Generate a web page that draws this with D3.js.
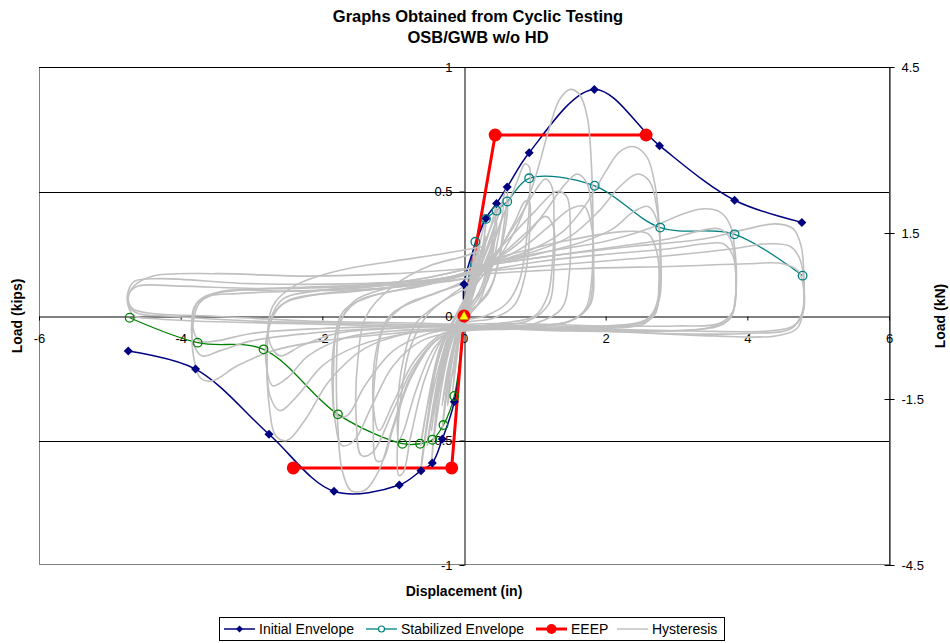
<!DOCTYPE html>
<html><head><meta charset="utf-8">
<script src="https://cdn.jsdelivr.net/npm/d3@7"></script>
<style>body{margin:0;background:#fff} svg{display:block} text{font-family:Arial,"Liberation Sans",sans-serif}</style>
</head><body><svg id="chart" width="950" height="643"></svg>
<script>
// ---------- DATA ----------
const titleLines = ["Graphs Obtained from Cyclic Testing", "OSB/GWB w/o HD"];
const xTicks = [-6, -4, -2, 0, 2, 4, 6];
const yTicks = [-1, -0.5, 0, 0.5, 1];
const yTicksKN = [-4.5, -1.5, 1.5, 4.5];
const gridValues = [1, 0.5, -0.5];

const initialEnvelope = [
  [-4.74, -0.141], [-3.79, -0.213], [-2.753, -0.475], [-1.835, -0.704], [-0.913, -0.679],
  [-0.607, -0.621], [-0.447, -0.590], [-0.306, -0.494], [-0.137, -0.344], [0, 0],
  [0.0, 0.128], [0.31, 0.392], [0.46, 0.452], [0.61, 0.518], [0.92, 0.656],
  [1.84, 0.910], [2.76, 0.684], [3.82, 0.465], [4.77, 0.376]
];
const stabilizedPos = [
  [0, 0], [0.16, 0.298], [0.31, 0.39], [0.46, 0.423], [0.61, 0.46], [0.92, 0.553],
  [1.845, 0.523], [2.77, 0.355], [3.82, 0.328], [4.78, 0.162]
];
const stabilizedNeg = [
  [0, 0], [-0.137, -0.321], [-0.29, -0.438], [-0.447, -0.497], [-0.62, -0.513],
  [-0.87, -0.513], [-1.78, -0.395], [-2.83, -0.134], [-3.76, -0.107], [-4.72, -0.007]
];
const eeep = [[-2.41, -0.61], [-0.174, -0.61], [0, 0], [0.44, 0.727], [2.57, 0.727]];
const originPoint = [[0, 0]];

const hysteresisCycles = [
  [[0,0],[0.05,0.07],[0.1,0.15],[0.07,0.09],[0,0.01],[-0.05,-0.06],[-0.1,-0.16],[-0.07,-0.1],[0,-0.01],[0.04,0.05]],
  [[0,0.01],[0.08,0.13],[0.16,0.28],[0.13,0.2],[0.05,0.05],[-0.05,-0.05],[-0.16,-0.3],[-0.12,-0.21],[-0.03,-0.02],[0.05,0.07]],
  [[0,0.02],[0.1,0.14],[0.16,0.22],[0.12,0.14],[0.03,0.02],[-0.07,-0.08],[-0.16,-0.24],[-0.11,-0.15],[-0.02,0],[0.05,0.06]],
  [[-0.02,0.04],[0.12,0.18],[0.22,0.3],[0.19,0.22],[0.08,0.08],[-0.06,-0.04],[-0.18,-0.2],[-0.23,-0.36],[-0.17,-0.24],[-0.05,-0.04],[0.04,0.06]],
  [[0,0.02],[0.15,0.2],[0.31,0.39],[0.27,0.29],[0.12,0.09],[-0.04,-0.02],[-0.18,-0.16],[-0.31,-0.46],[-0.26,-0.35],[-0.1,-0.07],[0.05,0.06]],
  [[0,0.03],[0.18,0.2],[0.31,0.32],[0.26,0.23],[0.1,0.06],[-0.08,-0.05],[-0.22,-0.2],[-0.31,-0.36],[-0.24,-0.25],[-0.08,-0.03],[0.06,0.07]],
  [[0,0.03],[0.22,0.22],[0.38,0.36],[0.46,0.45],[0.42,0.34],[0.25,0.12],[0.05,0.02],[-0.15,-0.08],[-0.35,-0.3],[-0.46,-0.59],[-0.41,-0.46],[-0.22,-0.15],[0,0.03],[0.12,0.1]],
  [[0.05,0.06],[0.26,0.22],[0.46,0.38],[0.41,0.28],[0.22,0.08],[0,0],[-0.22,-0.1],[-0.46,-0.46],[-0.39,-0.34],[-0.18,-0.08],[0.02,0.04]],
  [[0.02,0.08],[0.2,0.18],[0.38,0.3],[0.44,0.34],[0.4,0.24],[0.22,0.06],[0.02,-0.01],[-0.2,-0.1],[-0.38,-0.3],[-0.44,-0.4],[-0.36,-0.28],[-0.16,-0.06],[0.04,0.07]],
  [[0,0.06],[0.3,0.3],[0.55,0.46],[0.5,0.34],[0.3,0.12],[0,0.02],[-0.25,-0.12],[-0.52,-0.52],[-0.46,-0.4],[-0.25,-0.1],[0,0.06]],
  [[0,0.04],[0.28,0.24],[0.48,0.4],[0.61,0.52],[0.57,0.38],[0.4,0.13],[0.12,0.02],[-0.18,-0.07],[-0.42,-0.28],[-0.61,-0.62],[-0.55,-0.48],[-0.35,-0.16],[-0.05,0.04],[0.15,0.12]],
  [[0.05,0.07],[0.35,0.24],[0.61,0.44],[0.56,0.32],[0.34,0.09],[0,0.0],[-0.3,-0.1],[-0.61,-0.52],[-0.53,-0.38],[-0.28,-0.1],[0,0.05]],
  [[0,0.05],[0.3,0.22],[0.55,0.4],[0.75,0.54],[0.86,0.61],[0.92,0.6],[0.93,0.5],[0.88,0.3],[0.78,0.14],[0.6,0.05],[0.3,0.0],[0,-0.02],[-0.3,-0.09],[-0.55,-0.25],[-0.75,-0.48],[-0.86,-0.63],[-0.92,-0.64],[-0.94,-0.52],[-0.88,-0.3],[-0.75,-0.12],[-0.5,0.01],[-0.2,0.08],[0.1,0.14],[0.35,0.2]],
  [[0.1,0.1],[0.45,0.24],[0.72,0.38],[0.86,0.46],[0.92,0.46],[0.93,0.36],[0.86,0.16],[0.7,0.04],[0.4,-0.01],[0,-0.03],[-0.4,-0.12],[-0.68,-0.3],[-0.85,-0.46],[-0.92,-0.5],[-0.94,-0.4],[-0.86,-0.18],[-0.68,-0.03],[-0.35,0.05],[0.1,0.12]],
  [[0.1,0.12],[0.45,0.25],[0.75,0.38],[1.0,0.5],[1.15,0.55],[1.24,0.52],[1.27,0.4],[1.25,0.22],[1.18,0.08],[1.0,0.0],[0.5,-0.03],[0,-0.05],[-0.4,-0.1],[-0.75,-0.25],[-1.0,-0.45],[-1.15,-0.58],[-1.24,-0.58],[-1.28,-0.45],[-1.25,-0.22],[-1.12,-0.04],[-0.8,0.05],[-0.4,0.09],[0,0.14]],
  [[0,0.14],[0.5,0.24],[0.9,0.34],[1.15,0.4],[1.26,0.36],[1.27,0.2],[1.2,0.05],[0.9,-0.02],[0.3,-0.04],[-0.3,-0.07],[-0.7,-0.18],[-1.0,-0.35],[-1.2,-0.46],[-1.28,-0.36],[-1.24,-0.14],[-1.05,0.0],[-0.6,0.07],[0,0.13]],
  [[0.1,0.15],[0.6,0.3],[1.0,0.42],[1.3,0.5],[1.45,0.48],[1.5,0.35],[1.48,0.15],[1.38,0.03],[1.0,-0.03],[0.3,-0.05],[-0.3,-0.08],[-0.7,-0.2],[-1.0,-0.38],[-1.3,-0.55],[-1.45,-0.56],[-1.52,-0.42],[-1.5,-0.18],[-1.38,0.0],[-1.0,0.12],[-0.5,0.2],[0,0.24],[0.3,0.27]],
  [[0,0.1],[0.4,0.2],[0.75,0.36],[1.0,0.55],[1.2,0.75],[1.35,0.87],[1.5,0.91],[1.63,0.89],[1.74,0.8],[1.8,0.6],[1.82,0.35],[1.8,0.14],[1.72,0.03],[1.5,-0.02],[1.0,-0.04],[0.4,-0.04],[0,-0.05],[-0.4,-0.1],[-0.75,-0.24],[-1.0,-0.44],[-1.2,-0.62],[-1.4,-0.7],[-1.6,-0.7],[-1.72,-0.62],[-1.78,-0.45],[-1.8,-0.2],[-1.75,-0.03],[-1.55,0.06],[-1.1,0.11],[-0.5,0.14],[0,0.17],[0.3,0.2]],
  [[0.3,0.2],[0.8,0.3],[1.15,0.42],[1.4,0.52],[1.6,0.57],[1.74,0.53],[1.81,0.38],[1.82,0.18],[1.76,0.04],[1.5,-0.02],[0.8,-0.05],[0,-0.06],[-0.6,-0.1],[-1.0,-0.2],[-1.3,-0.36],[-1.55,-0.5],[-1.72,-0.52],[-1.82,-0.42],[-1.84,-0.2],[-1.78,-0.04],[-1.5,0.06],[-1.0,0.1],[-0.4,0.14],[0.2,0.19]],
  [[0.2,0.19],[0.8,0.27],[1.2,0.36],[1.5,0.43],[1.7,0.44],[1.8,0.36],[1.83,0.2],[1.79,0.05],[1.5,-0.02],[0.8,-0.04],[0,-0.05],[-0.5,-0.07],[-1.0,-0.14],[-1.4,-0.28],[-1.65,-0.4],[-1.8,-0.4],[-1.86,-0.28],[-1.83,-0.1],[-1.7,0.02],[-1.3,0.08],[-0.6,0.12],[0.1,0.17]],
  [[0.2,0.2],[0.9,0.26],[1.4,0.34],[1.75,0.46],[2.0,0.58],[2.2,0.66],[2.4,0.68],[2.58,0.64],[2.7,0.52],[2.76,0.34],[2.77,0.15],[2.72,0.03],[2.55,-0.03],[2.0,-0.05],[1.0,-0.05],[0,-0.05],[-0.8,-0.07],[-1.4,-0.13],[-1.9,-0.26],[-2.25,-0.42],[-2.5,-0.5],[-2.66,-0.48],[-2.75,-0.36],[-2.78,-0.16],[-2.74,-0.02],[-2.55,0.07],[-2.1,0.1],[-1.4,0.12],[-0.6,0.15],[0.2,0.2]],
  [[0.2,0.2],[1.0,0.26],[1.5,0.32],[1.9,0.42],[2.2,0.52],[2.45,0.57],[2.62,0.54],[2.73,0.42],[2.77,0.24],[2.74,0.07],[2.6,-0.01],[2.1,-0.04],[1.2,-0.05],[0.3,-0.05],[-0.8,-0.07],[-1.5,-0.12],[-2.0,-0.2],[-2.35,-0.32],[-2.6,-0.38],[-2.74,-0.32],[-2.78,-0.16],[-2.73,-0.02],[-2.5,0.06],[-2.0,0.09],[-1.2,0.11],[-0.3,0.15],[0.3,0.2]],
  [[0.3,0.2],[1.2,0.26],[1.7,0.3],[2.1,0.35],[2.4,0.42],[2.6,0.44],[2.73,0.38],[2.78,0.22],[2.75,0.06],[2.55,-0.02],[2.0,-0.04],[1.0,-0.05],[0,-0.05],[-1.0,-0.06],[-1.7,-0.09],[-2.2,-0.16],[-2.5,-0.25],[-2.7,-0.28],[-2.79,-0.2],[-2.77,-0.06],[-2.6,0.04],[-2.2,0.08],[-1.5,0.1],[-0.6,0.13],[0.2,0.18]],
  [[0.3,0.22],[1.4,0.3],[2.3,0.34],[2.6,0.33],[2.72,0.26],[2.75,0.12],[2.68,0.0],[2.3,-0.04],[1.2,-0.04],[0,-0.04],[-1.0,-0.05],[-1.8,-0.07],[-2.3,-0.12],[-2.6,-0.16],[-2.75,-0.1],[-2.7,0.04],[-2.4,0.12],[-1.8,0.18],[-1.0,0.22],[-0.3,0.25],[0.3,0.28]],
  [[0.2,0.2],[1.0,0.25],[2.0,0.3],[2.6,0.35],[3.0,0.4],[3.35,0.43],[3.6,0.42],[3.75,0.37],[3.83,0.25],[3.84,0.1],[3.78,0.0],[3.6,-0.04],[2.8,-0.06],[1.5,-0.06],[0,-0.05],[-1.0,-0.07],[-2.0,-0.1],[-2.7,-0.14],[-3.2,-0.2],[-3.55,-0.26],[-3.72,-0.25],[-3.82,-0.16],[-3.83,-0.04],[-3.74,0.05],[-3.5,0.09],[-2.8,0.11],[-1.8,0.12],[-0.8,0.14],[0.2,0.2]],
  [[0.2,0.2],[1.2,0.24],[2.2,0.28],[2.9,0.31],[3.3,0.34],[3.6,0.35],[3.76,0.31],[3.83,0.2],[3.83,0.07],[3.75,-0.01],[3.4,-0.05],[2.4,-0.06],[1.0,-0.05],[0,-0.04],[-1.2,-0.05],[-2.2,-0.07],[-3.0,-0.1],[-3.45,-0.14],[-3.7,-0.16],[-3.82,-0.11],[-3.84,-0.02],[-3.75,0.06],[-3.4,0.1],[-2.4,0.1],[-1.2,0.12],[0.1,0.17]],
  [[0.1,0.17],[1.1,0.22],[2.1,0.25],[2.9,0.27],[3.4,0.29],[3.66,0.29],[3.8,0.24],[3.84,0.12],[3.8,0.02],[3.6,-0.03],[3.0,-0.04],[2.0,-0.04],[0.5,-0.03],[-0.8,-0.04],[-2.0,-0.05],[-3.0,-0.07],[-3.5,-0.1],[-3.74,-0.1],[-3.83,-0.04],[-3.8,0.04],[-3.6,0.08],[-3.2,0.09],[-2.4,0.1],[-1.2,0.11],[0,0.15]],
  [[0.2,0.2],[1.2,0.24],[2.4,0.28],[3.4,0.31],[4.0,0.35],[4.4,0.37],[4.65,0.35],[4.76,0.28],[4.8,0.15],[4.79,0.02],[4.7,-0.05],[4.4,-0.08],[3.5,-0.08],[2.0,-0.06],[0.5,-0.05],[-1.0,-0.04],[-2.5,-0.03],[-3.8,-0.02],[-4.4,-0.01],[-4.65,0.0],[-4.74,0.04],[-4.74,0.1],[-4.65,0.14],[-4.3,0.15],[-3.0,0.13],[-1.5,0.13],[-0.3,0.15],[0.3,0.19]],
  [[0.3,0.18],[1.5,0.21],[2.8,0.24],[3.8,0.27],[4.3,0.29],[4.6,0.28],[4.74,0.23],[4.8,0.12],[4.77,0.01],[4.65,-0.04],[4.3,-0.06],[3.2,-0.06],[1.5,-0.05],[0,-0.04],[-1.5,-0.03],[-3.0,-0.02],[-4.2,0.0],[-4.6,0.01],[-4.73,0.04],[-4.73,0.09],[-4.6,0.12],[-4.0,0.12],[-2.8,0.11],[-1.4,0.12],[-0.2,0.14],[0.3,0.17]],
  [[0.3,0.17],[1.6,0.19],[3.0,0.2],[4.0,0.21],[4.5,0.21],[4.72,0.18],[4.8,0.1],[4.78,0.01],[4.62,-0.05],[4.0,-0.07],[2.8,-0.07],[1.2,-0.05],[-0.5,-0.03],[-2.2,-0.02],[-3.6,0.0],[-4.4,0.01],[-4.68,0.03],[-4.74,0.07],[-4.66,0.12],[-4.4,0.16],[-3.5,0.17],[-2.2,0.16],[-1.0,0.17],[0,0.19]]
];

const legendItems = ["Initial Envelope", "Stabilized Envelope", "EEEP", "Hysteresis"];

// ---------- STYLE ----------
const C = { init: "#000080", stabPos: "#008080", stabNeg: "#008000", eeep: "#FF0000", hyst: "#C0C0C0" };
const FONT = 'Arial,"Liberation Sans",sans-serif';

const svg = d3.select("#chart");
const x = d3.scaleLinear().domain([-6, 6]).range([39, 889]);
const y = d3.scaleLinear().domain([-1, 1]).range([565, 67]);
const yKN = d3.scaleLinear().domain([-4.5, 4.5]).range([565, 67]);

svg.append("rect").attr("x", 39.5).attr("y", 67.5).attr("width", 850).attr("height", 497)
  .attr("fill", "none").attr("stroke", "#808080").attr("stroke-width", 1);
svg.append("g").selectAll("line").data(gridValues).join("line")
  .attr("x1", x(-6)).attr("x2", x(6))
  .attr("y1", d => Math.round(y(d)) + 0.5).attr("y2", d => Math.round(y(d)) + 0.5)
  .attr("stroke", "#000").attr("stroke-width", 1);

function styleAxis(g) {
  g.attr("font-size", 13).attr("font-family", FONT);
  g.selectAll(".domain").attr("stroke", "#000");
  g.selectAll(".tick line").attr("stroke", "#000");
  g.selectAll(".tick text").attr("fill", "#000");
}
const fmt = d => String(d);
svg.append("g").attr("transform", `translate(0,${Math.round(y(0)) + 0.5})`)
  .call(d3.axisBottom(x).tickValues(xTicks).tickSize(4).tickSizeOuter(0).tickPadding(13).tickFormat(fmt))
  .call(styleAxis);
svg.append("g").attr("transform", `translate(${Math.round(x(0)) + 0.5},0)`)
  .call(d3.axisLeft(y).tickValues(yTicks).tickSize(5).tickSizeOuter(0).tickPadding(7).tickFormat(fmt))
  .call(styleAxis);
const gR = svg.append("g").attr("transform", `translate(${Math.round(x(6)) + 0.5},0)`)
  .call(d3.axisRight(yKN).tickValues(yTicksKN).tickSize(5).tickSizeOuter(0).tickPadding(7).tickFormat(fmt))
  .call(styleAxis);
gR.selectAll(".tick line").attr("x1", -5);

const smooth = d3.line().x(d => x(d[0])).y(d => y(d[1])).curve(d3.curveCatmullRom.alpha(0.5));
const straight = d3.line().x(d => x(d[0])).y(d => y(d[1]));

svg.append("path").datum(stabilizedNeg).attr("d", smooth).attr("fill", "none").attr("stroke", C.stabNeg).attr("stroke-width", 1.3);
svg.append("path").datum(stabilizedPos).attr("d", smooth).attr("fill", "none").attr("stroke", C.stabPos).attr("stroke-width", 1.3);
svg.append("path").datum(initialEnvelope).attr("d", smooth).attr("fill", "none").attr("stroke", C.init).attr("stroke-width", 1.5);
svg.append("path").datum(eeep).attr("d", straight).attr("fill", "none").attr("stroke", C.eeep).attr("stroke-width", 3);

svg.append("g").selectAll("path").data(hysteresisCycles).join("path")
  .attr("d", smooth).attr("fill", "none").attr("stroke", C.hyst).attr("stroke-width", 1.6);

const diamond = "M0,-4.5L4.5,0L0,4.5L-4.5,0Z";
svg.append("g").selectAll("path").data(initialEnvelope.filter(d => !(d[0] === 0 && d[1] === 0))).join("path")
  .attr("transform", d => `translate(${x(d[0])},${y(d[1])})`).attr("d", diamond).attr("fill", C.init);
svg.append("g").selectAll("circle").data(stabilizedPos.slice(1)).join("circle")
  .attr("cx", d => x(d[0])).attr("cy", d => y(d[1])).attr("r", 4.3)
  .attr("fill", "none").attr("stroke", C.stabPos).attr("stroke-width", 1.3);
svg.append("g").selectAll("circle").data(stabilizedNeg.slice(1)).join("circle")
  .attr("cx", d => x(d[0])).attr("cy", d => y(d[1])).attr("r", 4.3)
  .attr("fill", "none").attr("stroke", C.stabNeg).attr("stroke-width", 1.3);
svg.append("g").selectAll("circle").data(eeep).join("circle")
  .attr("cx", d => x(d[0])).attr("cy", d => y(d[1])).attr("r", 6.5).attr("fill", C.eeep);
svg.append("g").selectAll("path").data(originPoint).join("path")
  .attr("transform", d => `translate(${x(d[0])},${y(d[1])})`)
  .attr("d", "M0,-5L4.5,3.5L-4.5,3.5Z").attr("fill", "#FFFF00").attr("stroke", "#999900").attr("stroke-width", 0.5);

svg.append("g").selectAll("text").data(titleLines).join("text")
  .attr("x", 478).attr("y", (d, i) => 22 + i * 21).attr("text-anchor", "middle")
  .attr("font-size", 16.5).attr("font-weight", "bold").attr("font-family", FONT).text(d => d);
svg.append("text").attr("x", 464).attr("y", 596).attr("text-anchor", "middle")
  .attr("font-size", 14).attr("font-weight", "bold").attr("font-family", FONT).text("Displacement (in)");
svg.append("text").attr("transform", "translate(22,316) rotate(-90)").attr("text-anchor", "middle")
  .attr("font-size", 14).attr("font-weight", "bold").attr("font-family", FONT).text("Load (kips)");
svg.append("text").attr("transform", "translate(945,316) rotate(-90)").attr("text-anchor", "middle")
  .attr("font-size", 14).attr("font-weight", "bold").attr("font-family", FONT).text("Load (kN)");

const lg = svg.append("g");
lg.append("rect").attr("x", 219.5).attr("y", 617.5).attr("width", 505).attr("height", 23)
  .attr("fill", "#fff").attr("stroke", "#000");
const ly = 629;
const sampleX = [224, 366, 536, 617];
const textX = [259, 401, 571, 652];
const sampleColors = [C.init, C.stabPos, C.eeep, C.hyst];
const sampleW = [1.5, 1.3, 3, 1.5];
legendItems.forEach((name, i) => {
  lg.append("line").attr("x1", sampleX[i]).attr("x2", sampleX[i] + 31).attr("y1", ly).attr("y2", ly)
    .attr("stroke", sampleColors[i]).attr("stroke-width", sampleW[i]);
  const cx = sampleX[i] + 15.5;
  if (i === 0) lg.append("path").attr("transform", `translate(${cx},${ly})`).attr("d", "M0,-3.5L3.5,0L0,3.5L-3.5,0Z").attr("fill", C.init);
  if (i === 1) lg.append("circle").attr("cx", cx).attr("cy", ly).attr("r", 3).attr("fill", "#fff").attr("stroke", C.stabPos).attr("stroke-width", 1.2);
  if (i === 2) lg.append("circle").attr("cx", cx).attr("cy", ly).attr("r", 5).attr("fill", C.eeep);
  lg.append("text").attr("x", textX[i]).attr("y", ly + 5).attr("font-size", 14).attr("font-family", FONT).text(name);
});
</script></body></html>
